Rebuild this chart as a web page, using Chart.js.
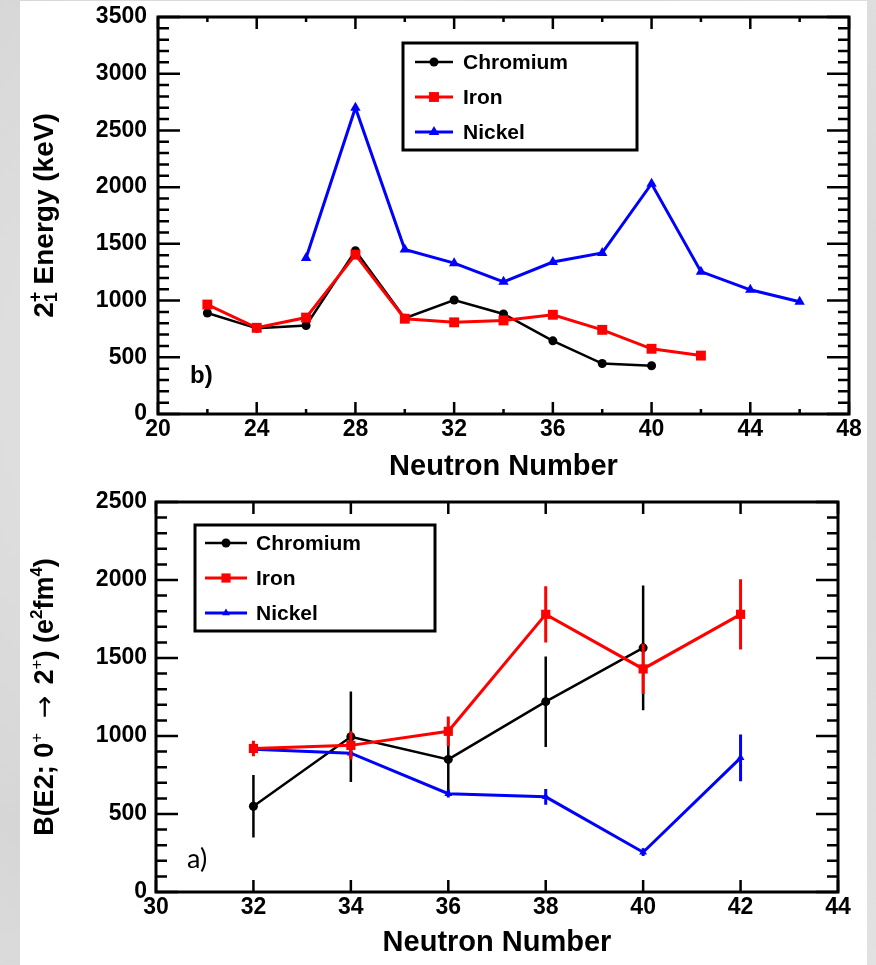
<!DOCTYPE html>
<html>
<head>
<meta charset="utf-8">
<script src="https://cdn.jsdelivr.net/npm/chart.js@4.4.1/dist/chart.umd.min.js"></script>
<style>
  body { margin: 0; width: 876px; height: 965px; overflow: hidden; position: relative;
         background: #dcdcdc radial-gradient(circle at 30% 40%, #e6e6e6 0, #d6d6d6 60%, #e2e2e2 100%); }
  #panel { position: absolute; left: 20px; top: 1px; width: 847px; height: 964px; background: #fff; }
  canvas { position: absolute; left: 0; }
  #energyChart { top: 0; }
  #be2Chart { top: 480px; }
</style>
</head>
<body>
<div id="panel"></div>
<canvas id="energyChart" width="876" height="490"></canvas>
<canvas id="be2Chart" width="876" height="485"></canvas>
<script>
const FONT = "'Liberation Sans', Arial, Helvetica, sans-serif";

// ---- panel b): first 2+ energies ----
const energyTicksX = [20, 24, 28, 32, 36, 40, 44, 48];
const energyTicksY = [0, 500, 1000, 1500, 2000, 2500, 3000, 3500];
const crN = [22, 24, 26, 28, 30, 32, 34, 36, 38, 40];
const crEnergy = [890, 755, 780, 1440, 845, 1005, 882, 645, 445, 425];
const feN = [22, 24, 26, 28, 30, 32, 34, 36, 38, 40, 42];
const feEnergy = [965, 760, 850, 1405, 840, 808, 825, 875, 742, 575, 515];
const niN = [26, 28, 30, 32, 34, 36, 38, 40, 42, 44, 46];
const niEnergy = [1375, 2700, 1450, 1330, 1165, 1340, 1420, 2030, 1255, 1095, 990];

// ---- panel a): B(E2; 0+ -> 2+) ----
const be2TicksX = [30, 32, 34, 36, 38, 40, 42, 44];
const be2TicksY = [0, 500, 1000, 1500, 2000, 2500];
const crN2 = [32, 34, 36, 38, 40];
const crBE2 = [550, 995, 850, 1220, 1565];
const crBE2Err = [200, 290, 210, 290, 400];
const feN2 = [32, 34, 36, 38, 40, 42];
const feBE2 = [920, 940, 1030, 1780, 1430, 1780];
const feBE2Err = [50, 90, 95, 180, 160, 225];
const niN2 = [32, 34, 36, 38, 40, 42];
const niBE2 = [915, 890, 630, 610, 255, 860];
const niBE2Err = [20, 30, 25, 50, 25, 150];

const labels = ['Chromium', 'Iron', 'Nickel'];
const colors = ['#000000', '#ff0000', '#0000ff'];
const styles = ['circle', 'rect', 'triangle'];

// axis titles with super/subscripts, as text runs
const energyTitle = [
    { t: '2' }, { t: '+', sup: true, stack: true }, { t: '1', sub: true }, { t: ' Energy (keV)' }
];
const be2Title = [
    { t: 'B(E2; 0' }, { t: '+', sup: true, weight: 'normal' }, { t: '  ' },
    { t: '\u2192', weight: 'normal', family: "'DejaVu Sans', sans-serif" }, { t: '\u2009\u20092' },
    { t: '+', sup: true, weight: 'normal' },
    { t: ') (e' }, { t: '2', sup: true }, { t: 'fm' }, { t: '4', sup: true }, { t: ')' }
];

function pts(xs, ys) {
    return xs.map((x, i) => ({ x: x, y: ys[i] }));
}

// frame with inward ticks on all four sides (ROOT style)
const framePlugin = {
    id: 'frame',
    afterDatasetsDraw(chart, args, opts) {
        const { ctx, chartArea: a, scales: { x, y } } = chart;
        ctx.save();
        ctx.strokeStyle = '#000';
        ctx.lineWidth = 2.5;
        ctx.beginPath();
        for (let v = y.min; v <= y.max; v += opts.yMinor) {
            const py = y.getPixelForValue(v);
            const len = v % opts.yMajor === 0 ? 22 : 11;
            ctx.moveTo(a.left, py); ctx.lineTo(a.left + len, py);
            ctx.moveTo(a.right, py); ctx.lineTo(a.right - len, py);
        }
        for (let v = x.min; v <= x.max; v += opts.xMinor) {
            const px = x.getPixelForValue(v);
            const len = (v - x.min) % opts.xMajor === 0 ? 12 : 5;
            ctx.moveTo(px, a.bottom); ctx.lineTo(px, a.bottom - len);
            ctx.moveTo(px, a.top); ctx.lineTo(px, a.top + len);
        }
        ctx.stroke();
        ctx.lineWidth = 3;
        ctx.strokeRect(a.left, a.top, a.right - a.left, a.bottom - a.top);
        ctx.restore();
    }
};

// vertical error bars, drawn right after each dataset so layering follows dataset order
const errorBarPlugin = {
    id: 'errorBars',
    afterDatasetDraw(chart, args) {
        const ds = chart.data.datasets[args.index];
        if (!ds.errors) return;
        const { ctx, scales: { y } } = chart;
        ctx.save();
        ctx.strokeStyle = ds.borderColor;
        ctx.lineWidth = ds.errorWidth || 3;
        ctx.beginPath();
        args.meta.data.forEach((pt, i) => {
            const v = ds.data[i].y, e = ds.errors[i];
            ctx.moveTo(pt.x, y.getPixelForValue(v + e));
            ctx.lineTo(pt.x, y.getPixelForValue(v - e));
        });
        ctx.stroke();
        ctx.restore();
    }
};

// boxed legend inside the frame
const boxLegendPlugin = {
    id: 'boxLegend',
    afterDraw(chart, args, o) {
        const { ctx, chartArea: a } = chart;
        const bx = a.left + o.left, by = a.top + o.top;
        ctx.save();
        ctx.lineWidth = 3;
        ctx.strokeStyle = '#000';
        ctx.strokeRect(bx, by, o.width, o.height);
        o.items.forEach((idx, row) => {
            const ds = chart.data.datasets[idx];
            const cy = by + o.firstRow + row * o.rowStep;
            ctx.strokeStyle = ds.borderColor;
            ctx.fillStyle = ds.borderColor;
            ctx.lineWidth = ds.borderWidth;
            ctx.beginPath();
            ctx.moveTo(bx + o.lineX0, cy); ctx.lineTo(bx + o.lineX1, cy);
            ctx.stroke();
            Chart.helpers.drawPoint(ctx, { pointStyle: ds.pointStyle, radius: ds.pointRadius, rotation: 0, borderWidth: 0 },
                bx + (o.lineX0 + o.lineX1) / 2, cy);
            ctx.fillStyle = '#000';
            ctx.font = 'bold 21px ' + FONT;
            ctx.textBaseline = 'middle';
            ctx.fillText(ds.label, bx + o.textX, cy + 1);
        });
        ctx.restore();
    }
};

const panelTagPlugin = {
    id: 'panelTag',
    afterDraw(chart, args, o) {
        const { ctx, chartArea: a } = chart;
        ctx.save();
        ctx.fillStyle = '#000';
        ctx.font = o.font;
        ctx.textBaseline = 'middle';
        ctx.fillText(o.text, a.left + o.dx, a.bottom - o.dy);
        ctx.restore();
    }
};

// rotated y-axis title made of text runs (super/subscripts)
const richTitlePlugin = {
    id: 'richTitle',
    afterDraw(chart, args, o) {
        const { ctx, chartArea: a } = chart;
        const small = Math.round(o.size * 0.64);
        const fontOf = s => (s.weight || 'bold') + ' ' + (s.sup || s.sub ? small : o.size) + 'px ' + (s.family || FONT);
        let total = 0;
        const adv = o.runs.map(s => {
            ctx.font = fontOf(s);
            return ctx.measureText(s.t).width;
        });
        o.runs.forEach((s, i) => { if (!s.stack) total += adv[i]; });
        ctx.save();
        ctx.translate(o.baselineX, (a.top + a.bottom) / 2);
        ctx.rotate(-Math.PI / 2);
        ctx.fillStyle = '#000';
        ctx.textBaseline = 'alphabetic';
        let x = -total / 2;
        o.runs.forEach((s, i) => {
            ctx.font = fontOf(s);
            let dy = 0;
            if (s.sup) dy = -o.size * 0.42;
            if (s.sub) dy = o.size * 0.16;
            ctx.fillText(s.t, x, dy);
            if (!s.stack) x += adv[i];
        });
        ctx.restore();
    }
};

function makeDatasets(series, lineWidths, radii) {
    return series.map((s, i) => ({
        label: labels[i],
        data: s.data,
        errors: s.errors,
        borderColor: colors[i],
        backgroundColor: colors[i],
        pointBackgroundColor: colors[i],
        pointBorderWidth: 0,
        pointStyle: styles[i],
        pointRadius: radii[i],
        borderWidth: lineWidths[i],
        errorWidth: lineWidths[i],
        tension: 0,
        fill: false,
        order: [2, 0, 1][i]
    }));
}

function axisOptions(cfg) {
    const tickFont = { family: FONT, size: 23, weight: 'bold' };
    return {
        x: {
            type: 'linear', min: cfg.xTicks[0], max: cfg.xTicks[cfg.xTicks.length - 1],
            afterBuildTicks: s => { s.ticks = cfg.xTicks.map(v => ({ value: v })); },
            afterFit: s => { s.height = cfg.xHeight; s.paddingLeft = 0; s.paddingRight = 0; },
            grid: { display: false, drawTicks: false },
            border: { display: false },
            ticks: { color: '#000', font: tickFont, padding: 2, maxRotation: 0, callback: v => String(v) },
            title: { display: true, text: 'Neutron Number', color: '#000',
                     font: { family: FONT, size: 29, weight: 'bold' }, padding: { top: 0, bottom: cfg.xTitlePad } }
        },
        y: {
            type: 'linear', min: cfg.yTicks[0], max: cfg.yTicks[cfg.yTicks.length - 1],
            afterBuildTicks: s => { s.ticks = cfg.yTicks.map(v => ({ value: v })); },
            afterFit: s => { s.width = cfg.yWidth; s.paddingTop = 0; s.paddingBottom = 0; },
            grid: { display: false, drawTicks: false },
            border: { display: false },
            ticks: { color: '#000', font: tickFont, padding: cfg.yPad, callback: v => String(v) },
            title: { display: false }
        }
    };
}

new Chart(document.getElementById('energyChart'), {
    type: 'line',
    data: {
        datasets: makeDatasets([
            { data: pts(crN, crEnergy) },
            { data: pts(feN, feEnergy) },
            { data: pts(niN, niEnergy) }
        ], [2.5, 3, 3], [4.5, 7, 6])
    },
    options: {
        responsive: false,
        animation: false,
        layout: { padding: { top: 17, right: 27, left: 0, bottom: 0 } },
        scales: axisOptions({ xTicks: energyTicksX, yTicks: energyTicksY, xHeight: 76, yWidth: 158,
                              xTitlePad: 6, yPad: 11 }),
        plugins: {
            legend: { display: false },
            tooltip: { enabled: false },
            frame: { yMajor: 500, yMinor: 100, xMajor: 4, xMinor: 2 },
            boxLegend: { left: 245, top: 26, width: 234, height: 107, firstRow: 19, rowStep: 35,
                         lineX0: 12, lineX1: 50, textX: 60, items: [0, 1, 2] },
            panelTag: { text: 'b)', dx: 32, dy: 38, font: 'bold 24px ' + FONT },
            richTitle: { runs: energyTitle, size: 28, baselineX: 53 }
        }
    },
    plugins: [errorBarPlugin, framePlugin, boxLegendPlugin, panelTagPlugin, richTitlePlugin]
});

new Chart(document.getElementById('be2Chart'), {
    type: 'line',
    data: {
        datasets: makeDatasets([
            { data: pts(crN2, crBE2), errors: crBE2Err },
            { data: pts(feN2, feBE2), errors: feBE2Err },
            { data: pts(niN2, niBE2), errors: niBE2Err }
        ], [2.5, 3, 3], [4.5, 6.5, 4.5])
    },
    options: {
        responsive: false,
        animation: false,
        layout: { padding: { top: 22, right: 38, left: 0, bottom: 0 } },
        scales: axisOptions({ xTicks: be2TicksX, yTicks: be2TicksY, xHeight: 73, yWidth: 156,
                              xTitlePad: 5, yPad: 9 }),
        plugins: {
            legend: { display: false },
            tooltip: { enabled: false },
            frame: { yMajor: 500, yMinor: 100, xMajor: 2, xMinor: 2 },
            boxLegend: { left: 39, top: 23, width: 240, height: 106, firstRow: 18, rowStep: 35,
                         lineX0: 10, lineX1: 52, textX: 61, items: [0, 1, 2] },
            panelTag: { text: 'a)', dx: 31, dy: 33, font: '27px Lato, ' + FONT },
            richTitle: { runs: be2Title, size: 27, baselineX: 53 }
        }
    },
    plugins: [errorBarPlugin, framePlugin, boxLegendPlugin, panelTagPlugin, richTitlePlugin]
});
</script>
</body>
</html>
